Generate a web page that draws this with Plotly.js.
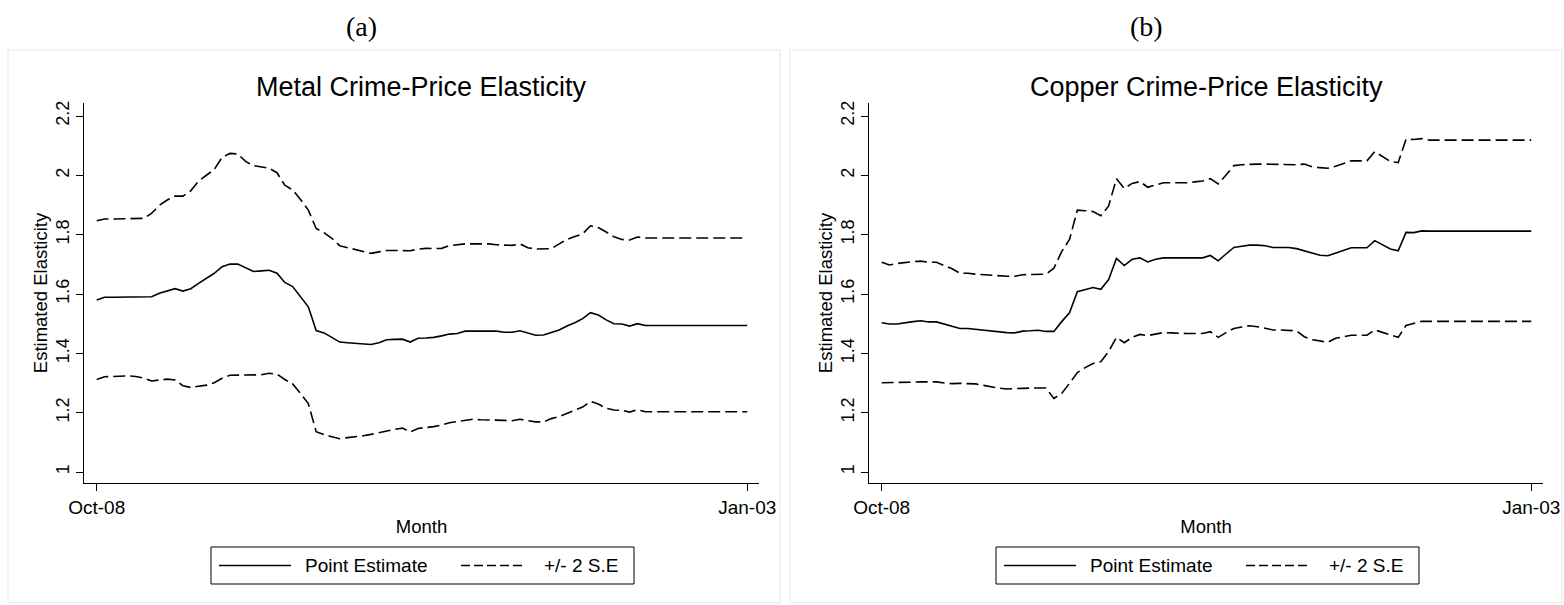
<!DOCTYPE html>
<html>
<head>
<meta charset="utf-8">
<script src="https://cdn.plot.ly/plotly-3.0.1.min.js"></script>
<style>
html,body{margin:0;padding:0;background:#ffffff;}
#chart{width:1564px;height:605px;}
</style>
</head>
<body>
<div id="chart"></div>
<script>
// ---- Data (monthly, 84 observations per series) ----
const xTickLabels = ["Oct-08", "Jan-03"];
const yTickValues = [1, 1.2, 1.4, 1.6, 1.8, 2, 2.2];
const yTickLabels = ["1", "1.2", "1.4", "1.6", "1.8", "2", "2.2"];
const seriesNames = ["Point Estimate", "+/- 2 S.E"];
const panelTitles = ["Metal Crime-Price Elasticity", "Copper Crime-Price Elasticity"];
const panelLabels = ["(a)", "(b)"];

const metalPoint = [
  1.580, 1.589, 1.589, 1.589, 1.589, 1.589, 1.589, 1.591, 1.603, 1.611,
  1.618, 1.610, 1.618, 1.636, 1.652, 1.670, 1.692, 1.701, 1.701, 1.689,
  1.676, 1.678, 1.680, 1.670, 1.639, 1.625, 1.591, 1.557, 1.477, 1.469,
  1.454, 1.438, 1.436, 1.434, 1.433, 1.430, 1.436, 1.446, 1.447, 1.448,
  1.438, 1.451, 1.452, 1.454, 1.459, 1.465, 1.467, 1.475, 1.475, 1.475,
  1.475, 1.475, 1.471, 1.471, 1.476, 1.469, 1.461, 1.462, 1.470, 1.479,
  1.492, 1.503, 1.517, 1.537, 1.529, 1.513, 1.500, 1.499, 1.492, 1.500,
  1.494, 1.494, 1.494, 1.494, 1.494, 1.494, 1.494, 1.494, 1.494, 1.494,
  1.494, 1.494, 1.494, 1.494
];
const metalUpper = [
  1.847, 1.853, 1.853, 1.853, 1.854, 1.855, 1.855, 1.872, 1.899, 1.917,
  1.930, 1.930, 1.948, 1.981, 2.001, 2.020, 2.061, 2.074, 2.072, 2.047,
  2.033, 2.029, 2.024, 2.009, 1.967, 1.951, 1.919, 1.883, 1.821, 1.807,
  1.788, 1.763, 1.757, 1.751, 1.745, 1.737, 1.742, 1.747, 1.747, 1.746,
  1.746, 1.751, 1.754, 1.753, 1.754, 1.763, 1.766, 1.769, 1.769, 1.769,
  1.769, 1.766, 1.764, 1.764, 1.769, 1.756, 1.752, 1.752, 1.753, 1.769,
  1.784, 1.794, 1.803, 1.830, 1.824, 1.809, 1.793, 1.784, 1.782, 1.792,
  1.789, 1.789, 1.789, 1.789, 1.789, 1.789, 1.789, 1.789, 1.789, 1.789,
  1.789, 1.789, 1.789, 1.789
];
const metalLower = [
  1.312, 1.321, 1.322, 1.324, 1.324, 1.322, 1.317, 1.307, 1.310, 1.313,
  1.310, 1.291, 1.285, 1.288, 1.293, 1.301, 1.316, 1.326, 1.326, 1.326,
  1.326, 1.328, 1.333, 1.330, 1.312, 1.297, 1.265, 1.231, 1.136, 1.126,
  1.119, 1.112, 1.116, 1.118, 1.122, 1.127, 1.133, 1.139, 1.144, 1.148,
  1.135, 1.147, 1.149, 1.153, 1.158, 1.166, 1.170, 1.175, 1.178, 1.176,
  1.176, 1.175, 1.174, 1.173, 1.178, 1.173, 1.169, 1.169, 1.180, 1.187,
  1.198, 1.207, 1.219, 1.238, 1.229, 1.215, 1.209, 1.208, 1.202, 1.210,
  1.203, 1.203, 1.203, 1.203, 1.203, 1.203, 1.203, 1.203, 1.203, 1.203,
  1.203, 1.203, 1.203, 1.203
];
const copperPoint = [
  1.503, 1.499, 1.499, 1.504, 1.507, 1.510, 1.506, 1.506, 1.498, 1.490,
  1.484, 1.484, 1.481, 1.478, 1.475, 1.473, 1.470, 1.469, 1.475, 1.476,
  1.478, 1.474, 1.474, 1.507, 1.537, 1.608, 1.616, 1.622, 1.616, 1.649,
  1.720, 1.696, 1.717, 1.722, 1.708, 1.717, 1.722, 1.722, 1.722, 1.722,
  1.722, 1.722, 1.730, 1.712, 1.735, 1.757, 1.761, 1.765, 1.765, 1.763,
  1.757, 1.757, 1.757, 1.753, 1.746, 1.737, 1.731, 1.729, 1.738, 1.748,
  1.756, 1.756, 1.756, 1.780, 1.765, 1.752, 1.746, 1.808, 1.807, 1.813,
  1.812, 1.812, 1.812, 1.812, 1.812, 1.812, 1.812, 1.812, 1.812, 1.812,
  1.812, 1.812, 1.812, 1.812
];
const copperUpper = [
  1.707, 1.698, 1.703, 1.707, 1.709, 1.711, 1.707, 1.707, 1.696, 1.685,
  1.670, 1.670, 1.667, 1.665, 1.664, 1.662, 1.660, 1.660, 1.665, 1.666,
  1.666, 1.667, 1.687, 1.743, 1.784, 1.883, 1.881, 1.878, 1.864, 1.897,
  1.989, 1.956, 1.973, 1.979, 1.960, 1.967, 1.975, 1.975, 1.975, 1.975,
  1.978, 1.981, 1.989, 1.971, 2.001, 2.033, 2.036, 2.038, 2.038, 2.038,
  2.037, 2.036, 2.036, 2.036, 2.038, 2.029, 2.026, 2.024, 2.031, 2.040,
  2.049, 2.049, 2.049, 2.080, 2.063, 2.047, 2.043, 2.122, 2.121, 2.124,
  2.119, 2.119, 2.119, 2.119, 2.119, 2.119, 2.119, 2.119, 2.119, 2.119,
  2.119, 2.119, 2.119, 2.119
];
const copperLower = [
  1.301, 1.301, 1.301, 1.302, 1.303, 1.304, 1.304, 1.304, 1.300, 1.298,
  1.299, 1.299, 1.297, 1.292, 1.287, 1.283, 1.280, 1.282, 1.282, 1.283,
  1.283, 1.283, 1.248, 1.265, 1.299, 1.335, 1.352, 1.366, 1.372, 1.406,
  1.454, 1.436, 1.454, 1.464, 1.460, 1.465, 1.470, 1.469, 1.467, 1.467,
  1.467, 1.467, 1.473, 1.454, 1.470, 1.484, 1.489, 1.493, 1.490, 1.484,
  1.479, 1.479, 1.478, 1.476, 1.456, 1.446, 1.442, 1.437, 1.451, 1.456,
  1.461, 1.461, 1.461, 1.479, 1.471, 1.461, 1.454, 1.494, 1.501, 1.508,
  1.508, 1.508, 1.508, 1.508, 1.508, 1.508, 1.508, 1.508, 1.508, 1.508,
  1.508, 1.508, 1.508, 1.508
];

// ---- Layout helpers (pixel -> paper) ----
const W = 1564, H = 605;
const px = v => v / W;
const py = v => 1 - v / H;
const FONT = "Liberation Sans, Arial, Helvetica, sans-serif";
const DASH = "12px,5px";
const LW = 1.6;

const lastIndex = metalPoint.length - 1;

function lineTrace(values, axis, dashed, name) {
  return {
    type: "scatter", mode: "lines",
    y: values,
    xaxis: "x" + axis, yaxis: "y" + axis,
    name: name, showlegend: false, hoverinfo: "y",
    line: { color: "#000000", width: LW, dash: dashed ? DASH : "solid" }
  };
}

const data = [
  lineTrace(metalUpper, "", true, seriesNames[1]),
  lineTrace(metalLower, "", true, seriesNames[1]),
  lineTrace(metalPoint, "", false, seriesNames[0]),
  lineTrace(copperUpper, "2", true, seriesNames[1]),
  lineTrace(copperLower, "2", true, seriesNames[1]),
  lineTrace(copperPoint, "2", false, seriesNames[0])
];

function xAxis(domain, anchor) {
  return {
    domain: domain, anchor: anchor,
    range: [-1.62, lastIndex + 1.5],
    tickmode: "array", tickvals: [0, lastIndex], ticktext: xTickLabels,
    ticks: "outside", ticklen: 7, tickwidth: 1, tickcolor: "#000",
    showline: true, linecolor: "#000", linewidth: 1,
    showgrid: false, zeroline: false, automargin: false,
    tickfont: { family: FONT, size: 19, color: "#000" },
    title: { text: "Month", font: { family: FONT, size: 18.5, color: "#000" }, standoff: 3 },
    fixedrange: true
  };
}
function yAxis(anchor) {
  return {
    domain: [py(483), py(103)], anchor: anchor,
    range: [0.963, 2.244],
    tickmode: "array", tickvals: yTickValues, ticktext: yTickLabels,
    tickangle: -90,
    ticks: "outside", ticklen: 7, tickwidth: 1, tickcolor: "#000",
    showline: true, linecolor: "#000", linewidth: 1,
    showgrid: false, zeroline: false, automargin: false,
    tickfont: { family: FONT, size: 18, color: "#000" },
    title: { text: "Estimated Elasticity", font: { family: FONT, size: 18.5, color: "#000" }, standoff: 0 },
    fixedrange: true
  };
}

const shapes = [];
const annotations = [];
const offsets = [0, 785];

offsets.forEach((dx, k) => {
  // panel frame
  shapes.push({ type: "rect", xref: "paper", yref: "paper",
    x0: px(k === 0 ? 8 : 790), x1: px(k === 0 ? 780 : 1562), y0: py(603), y1: py(50),
    line: { color: "#dfe8eb", width: 1 }, fillcolor: "rgba(0,0,0,0)", layer: "below" });
  // legend box
  shapes.push({ type: "rect", xref: "paper", yref: "paper",
    x0: px(211 + dx), x1: px(634 + dx), y0: py(584), y1: py(547),
    line: { color: "#000", width: 1 }, fillcolor: "#ffffff" });
  // legend samples
  shapes.push({ type: "line", xref: "paper", yref: "paper",
    x0: px(219 + dx), x1: px(291 + dx), y0: py(565.5), y1: py(565.5),
    line: { color: "#000", width: LW } });
  shapes.push({ type: "line", xref: "paper", yref: "paper",
    x0: px(461 + dx), x1: px(524 + dx), y0: py(565.5), y1: py(565.5),
    line: { color: "#000", width: LW, dash: "9px,4px" } });
  annotations.push({ xref: "paper", yref: "paper", x: px(303 + dx), y: py(565.5),
    xanchor: "left", yanchor: "middle", showarrow: false, text: seriesNames[0],
    font: { family: FONT, size: 19, color: "#000" } });
  annotations.push({ xref: "paper", yref: "paper", x: px(542 + dx), y: py(565.5),
    xanchor: "left", yanchor: "middle", showarrow: false, text: seriesNames[1],
    font: { family: FONT, size: 19, color: "#000" } });
  // panel title
  annotations.push({ xref: "paper", yref: "paper", x: px(421.5 + dx), y: py(87),
    xanchor: "center", yanchor: "middle", showarrow: false, text: panelTitles[k],
    font: { family: FONT, size: 27, color: "#000" } });
  // panel label
  annotations.push({ xref: "paper", yref: "paper", x: px(361 + dx), y: py(27),
    xanchor: "center", yanchor: "middle", showarrow: false, text: panelLabels[k],
    font: { family: "Liberation Serif, Times New Roman, serif", size: 28, color: "#000" } });
});

const layout = {
  width: W, height: H,
  margin: { l: 0, r: 0, t: 0, b: 0, pad: 0 },
  paper_bgcolor: "#ffffff", plot_bgcolor: "#ffffff",
  showlegend: false,
  xaxis: xAxis([px(84), px(759)], "y"),
  yaxis: yAxis("x"),
  xaxis2: xAxis([px(869), px(1543)], "y2"),
  yaxis2: yAxis("x2"),
  shapes: shapes,
  annotations: annotations
};

Plotly.newPlot("chart", data, layout, { displayModeBar: false, staticPlot: true });
</script>
</body>
</html>
